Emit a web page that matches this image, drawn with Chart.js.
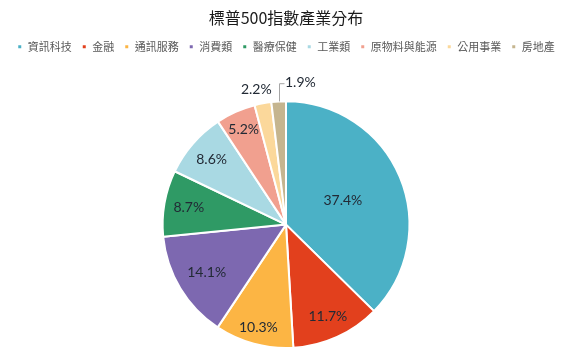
<!DOCTYPE html>
<html>
<head>
<meta charset="utf-8">
<script src="https://cdn.jsdelivr.net/npm/chart.js@4"></script>
<style>
  html, body { margin: 0; padding: 0; background: #fff; }
  #wrap { width: 575px; height: 357px; position: relative; }
</style>
</head>
<body>
<div id="wrap"><canvas id="c"></canvas></div>
<script>
const titleText = '標普500指數產業分布';
const categories = ['資訊科技', '金融', '通訊服務', '消費類', '醫療保健', '工業類', '原物料與能源', '公用事業', '房地產'];
const values = [37.4, 11.7, 10.3, 14.1, 8.7, 8.6, 5.2, 2.2, 1.9];
const valueLabels = ['37.4%', '11.7%', '10.3%', '14.1%', '8.7%', '8.6%', '5.2%', '2.2%', '1.9%'];

const colors = ['#4BB1C6', '#E2401D', '#FCB544', '#7D68B0', '#2F9A65', '#A9D9E3', '#F1A08F', '#FBD89B', '#C5B58F'];
// label placement style: fraction of radius, or 'out' / 'leader'
const labelPlacement = [0.5, 0.82, 0.86, 0.75, 0.8, 0.8, 0.84, 'out', 'leader'];

const labelPlugin = {
  id: 'sliceLabels',
  afterDatasetsDraw(chart) {
    const ctx = chart.ctx;
    const meta = chart.getDatasetMeta(0);
    ctx.save();
    ctx.font = '14px Lato, "Liberation Sans", sans-serif';
    ctx.fillStyle = '#222a35';
    ctx.textBaseline = 'middle';
    meta.data.forEach((arc, i) => {
      const p = arc.getProps(['x', 'y', 'startAngle', 'endAngle', 'outerRadius'], true);
      const mid = (p.startAngle + p.endAngle) / 2;
      const r = p.outerRadius;
      const pl = labelPlacement[i];
      if (typeof pl === 'number') {
        ctx.textAlign = 'center';
        ctx.fillText(valueLabels[i], p.x + Math.cos(mid) * r * pl, p.y + Math.sin(mid) * r * pl);
      } else if (pl === 'out') {
        ctx.textAlign = 'right';
        const lx = p.x + Math.cos(mid) * r * 1.14;
        const ly = p.y + Math.sin(mid) * r * 1.115;
        ctx.fillText(valueLabels[i], lx + 12, ly);
      } else {
        const sx = p.x + Math.cos(mid) * r;
        const sy = p.y + Math.sin(mid) * r;
        const ty = p.y - r - 18;
        ctx.strokeStyle = '#a6a6a6';
        ctx.lineWidth = 1;
        ctx.beginPath();
        ctx.moveTo(Math.round(sx) + 0.5, sy);
        ctx.lineTo(Math.round(sx) + 0.5, ty + 0.5);
        ctx.lineTo(Math.round(sx) + 5.5, ty + 0.5);
        ctx.stroke();
        ctx.textAlign = 'left';
        ctx.fillText(valueLabels[i], Math.round(sx) + 6, ty - 1);
      }
    });
    ctx.restore();
  }
};

const legendSpacer = {
  id: 'legendSpacer',
  beforeInit(chart) {
    const origFit = chart.legend.fit;
    chart.legend.fit = function () {
      origFit.bind(chart.legend)();
      this.height += 38;
    };
  }
};

new Chart(document.getElementById('c'), {
  type: 'pie',
  data: {
    labels: categories,
    datasets: [{
      data: values,
      backgroundColor: colors,
      borderColor: '#ffffff',
      borderWidth: 2
    }]
  },
  options: {
    responsive: true,
    maintainAspectRatio: false,
    animation: false,
    layout: { padding: { top: 0, bottom: 8, left: 0, right: 3 } },
    plugins: {
      title: {
        display: true,
        text: titleText,
        color: '#1a1a1a',
        font: { size: 16, family: '"Noto Sans CJK TC", sans-serif', weight: 'normal' },
        padding: { top: 8, bottom: 4 }
      },
      legend: {
        display: true,
        position: 'top',
        labels: {
          boxWidth: 5,
          boxHeight: 5,
          padding: 10,
          color: '#595959',
          font: { size: 11, family: '"Noto Sans CJK TC", sans-serif' }
        }
      },
      tooltip: { enabled: false }
    }
  },
  plugins: [labelPlugin, legendSpacer]
});
</script>
</body>
</html>
